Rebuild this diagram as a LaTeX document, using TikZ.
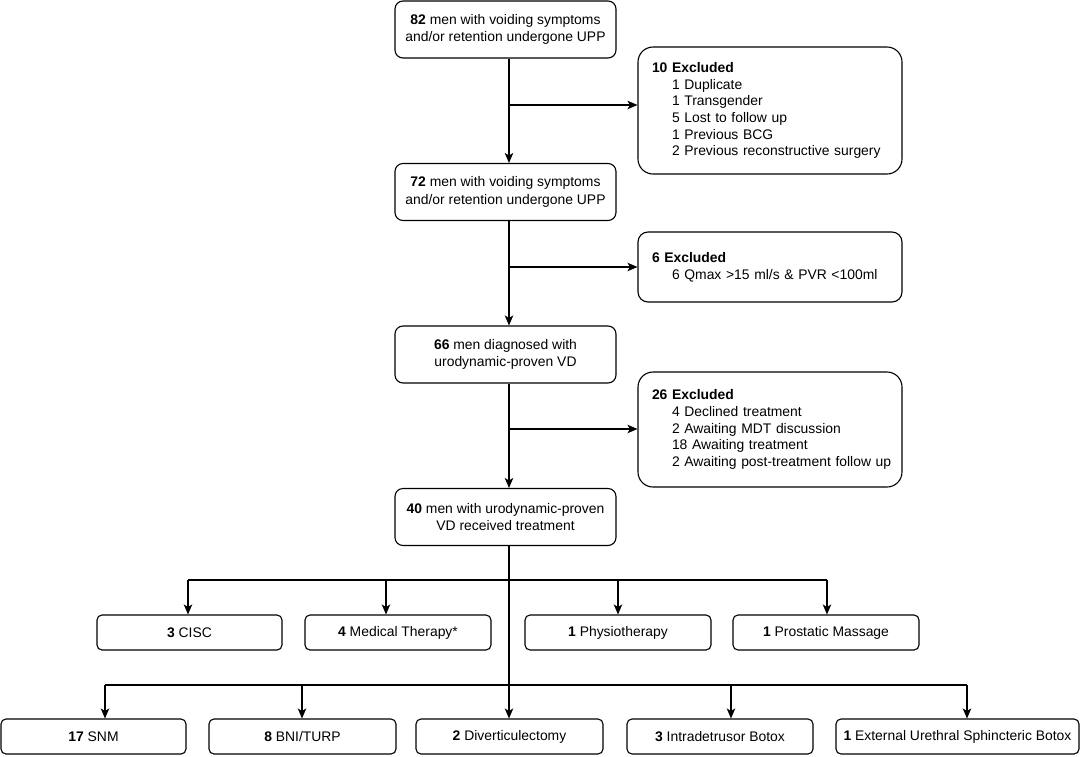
\documentclass[tikz,border=0pt]{standalone}
\usepackage{fontspec}
\setmainfont{Liberation Sans}
\usetikzlibrary{arrows.meta}
\newcommand{\exitem}[1]{\mbox{\hspace*{20pt}#1}}
\begin{document}
\begin{tikzpicture}[x=1pt,y=-1pt,
  box/.style={draw=black, line width=1.1pt, rounded corners=8pt, align=center,
    minimum width=221pt, minimum height=57pt, inner sep=0pt,
    font=\fontsize{13.9}{17.5}\selectfont},
  exbox/.style={draw=black, line width=1.1pt, align=left, text width=236pt,
    inner xsep=14pt, inner ysep=0pt, font=\fontsize{13.9}{16.7}\selectfont},
  leaf/.style={draw=black, line width=1.1pt, rounded corners=5pt, minimum height=35pt,
    inner sep=0pt, font=\fontsize{13.9}{16}\selectfont},
  arr/.style={-{Stealth[length=10pt,width=8.5pt,inset=2.5pt]}, line width=1.1pt},
  ln/.style={line width=1.1pt}]
\useasboundingbox (0,0) rectangle (1080,756);

% main boxes
\node[box] (b1) at (505.5,29.5) {\textbf{82} men with voiding symptoms\\and/or retention undergone UPP};
\node[box] (b2) at (505.5,192) {\textbf{72} men with voiding symptoms\\and/or retention undergone UPP};
\node[box] (b3) at (505.5,354.5) {\textbf{66} men diagnosed with\\urodynamic-proven VD};
\node[box] (b4) at (505.5,517) {\textbf{40} men with urodynamic-proven\\VD received treatment};

% excluded boxes
\node[exbox, rounded corners=15pt, minimum height=127pt] (e1) at (770,110.5)
  {\textbf{10 Excluded}\\
   \exitem{1 Duplicate}\\
   \exitem{1 Transgender}\\
   \exitem{5 Lost to follow up}\\
   \exitem{1 Previous BCG}\\
   \exitem{2 Previous reconstructive surgery}};
\node[exbox, rounded corners=10pt, minimum height=70pt] (e2) at (770,267)
  {\textbf{6 Excluded}\\
   \exitem{6 Qmax >15 ml/s \& PVR <100ml}};
\node[exbox, rounded corners=15pt, minimum height=115pt] (e3) at (770,429.5)
  {\textbf{26 Excluded}\\
   \exitem{4 Declined treatment}\\
   \exitem{2 Awaiting MDT discussion}\\
   \exitem{18 Awaiting treatment}\\
   \exitem{2 Awaiting post-treatment follow up}};

% row 1 leaves
\node[leaf, minimum width=185pt] (cisc) at (189.5,632.5) {\textbf{3} CISC};
\node[leaf, minimum width=186pt] (med) at (398,632.5) {\textbf{4} Medical Therapy*};
\node[leaf, minimum width=186pt] (phys) at (618,632.5) {\textbf{1} Physiotherapy};
\node[leaf, minimum width=186pt] (pros) at (826,632.5) {\textbf{1} Prostatic Massage};

% row 2 leaves
\node[leaf, minimum width=185pt] (snm) at (93.5,736.5) {\textbf{17} SNM};
\node[leaf, minimum width=187pt] (bni) at (302.5,736.5) {\textbf{8} BNI/TURP};
\node[leaf, minimum width=187pt] (div) at (509.5,736.5) {\textbf{2} Diverticulectomy};
\node[leaf, minimum width=186pt] (intra) at (720,736.5) {\textbf{3} Intradetrusor Botox};
\node[leaf, minimum width=243pt] (ext) at (957.5,736.5) {\textbf{1} External Urethral Sphincteric Botox};

% spine
\coordinate (sp) at (509,0);
\draw[arr] (b1.south -| sp) -- (b2.north -| sp);
\draw[arr] (b2.south -| sp) -- (b3.north -| sp);
\draw[arr] (b3.south -| sp) -- (b4.north -| sp);
\draw[arr] (b4.south -| sp) -- (div.north -| sp);

% exclusions
\coordinate (j1) at (509,105);
\coordinate (j2) at (509,267);
\coordinate (j3) at (509,429);
\draw[arr] (j1) -- (e1.west |- j1);
\draw[arr] (j2) -- (e2.west |- j2);
\draw[arr] (j3) -- (e3.west |- j3);

% row 1 branches
\coordinate (a1) at (188,580);
\coordinate (a2) at (386,580);
\coordinate (a3) at (618,580);
\coordinate (a4) at (827,580);
\draw[ln] (a1) -- (a4);
\draw[arr] (a1) -- (cisc.north -| a1);
\draw[arr] (a2) -- (med.north -| a2);
\draw[arr] (a3) -- (phys.north -| a3);
\draw[arr] (a4) -- (pros.north -| a4);

% row 2 branches
\coordinate (c1) at (105,685);
\coordinate (c2) at (302,685);
\coordinate (c4) at (731,685);
\coordinate (c5) at (967,685);
\draw[ln] (c1) -- (c5);
\draw[arr] (c1) -- (snm.north -| c1);
\draw[arr] (c2) -- (bni.north -| c2);
\draw[arr] (c4) -- (intra.north -| c4);
\draw[arr] (c5) -- (ext.north -| c5);
\end{tikzpicture}
\end{document}
